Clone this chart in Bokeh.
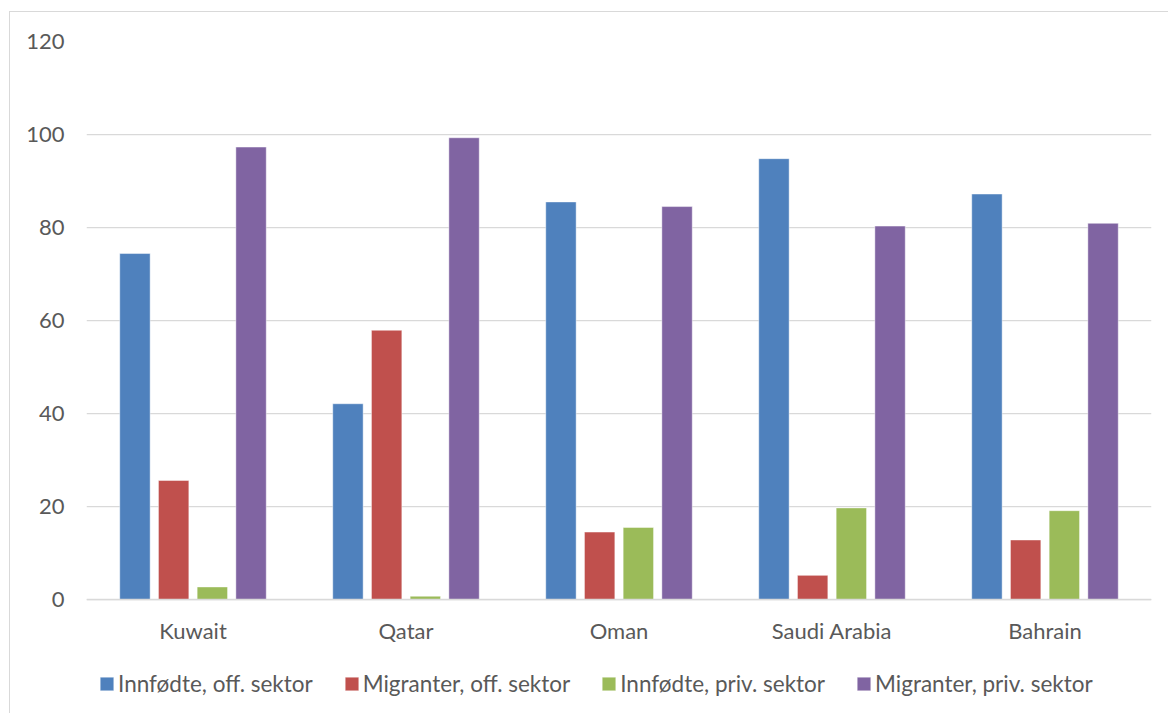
from bokeh.plotting import figure
from bokeh.models import (FactorRange, Range1d, FixedTicker, Legend, LegendItem,
                          ColumnDataSource)
from bokeh.transform import dodge
from bokeh.embed import file_html
from bokeh.resources import INLINE

# Share of employees (%) by sector and origin, Gulf states
countries = ["Kuwait", "Qatar", "Oman", "Saudi Arabia", "Bahrain"]
series_names = ["Innfødte, off. sektor", "Migranter, off. sektor",
                "Innfødte, priv. sektor", "Migranter, priv. sektor"]
innfodte_off = [74.4, 42.1, 85.5, 94.8, 87.2]
migranter_off = [25.6, 57.9, 14.5, 5.2, 12.8]
innfodte_priv = [2.7, 0.7, 15.5, 19.7, 19.1]
migranter_priv = [97.3, 99.3, 84.5, 80.3, 80.9]
y_ticks = [0, 20, 40, 60, 80, 100, 120]

colors = ["#4F81BD", "#C0504D", "#9BBB59", "#8064A2"]
FONT = "Lato"
TEXT_COLOR = "#595959"
GRID_COLOR = "#D9D9D9"

source = ColumnDataSource(data=dict(
    country=countries,
    s0=innfodte_off,
    s1=migranter_off,
    s2=innfodte_priv,
    s3=migranter_priv,
))

# The plot area runs to the bottom edge so that the category axis (pinned at
# y = 0) and the legend both sit inside it, below the bars.
p = figure(
    frame_width=1065, frame_height=672,
    x_range=FactorRange(factors=countries, range_padding=0),
    y_range=Range1d(-24.516, 120),
    output_backend="svg", toolbar_location=None,
    min_border_left=76, min_border_right=17,
    min_border_top=29, min_border_bottom=0,
    background_fill_color="white", border_fill_color="white",
    margin=(11, 0, 0, 9),
    styles={"border-left": "1px solid #D9D9D9", "border-top": "1px solid #D9D9D9"},
)
p.outline_line_color = None

step = 0.1817
bar_w = 0.1427
offsets = [-1.5 * step, -0.5 * step, 0.5 * step, 1.5 * step]

renderers = []
for i, (off, col) in enumerate(zip(offsets, colors)):
    r = p.vbar(x=dodge("country", off, range=p.x_range), top=f"s{i}", bottom=0,
               width=bar_w, source=source, fill_color=col,
               line_color="white", line_alpha=0.45, line_width=1)
    renderers.append(r)

# value axis
p.yaxis.ticker = FixedTicker(ticks=y_ticks)
p.yaxis.axis_line_color = None
p.yaxis.major_tick_line_color = None
p.yaxis.major_tick_out = 0
p.yaxis.minor_tick_line_color = None
p.yaxis.minor_tick_out = 0
p.yaxis.major_label_standoff = 22
p.yaxis.major_label_text_font = FONT
p.yaxis.major_label_text_font_size = "22px"
p.yaxis.major_label_text_color = TEXT_COLOR

# category axis pinned to the zero line
p.xaxis.fixed_location = 0
p.xaxis.axis_line_color = GRID_COLOR
p.xaxis.axis_line_width = 1.3
p.xaxis.major_tick_line_color = None
p.xaxis.major_tick_out = 0
p.xaxis.minor_tick_line_color = None
p.xaxis.minor_tick_out = 0
p.xaxis.major_label_standoff = 17
p.xaxis.major_label_text_font = FONT
p.xaxis.major_label_text_font_size = "22px"
p.xaxis.major_label_text_color = TEXT_COLOR

p.xgrid.grid_line_color = None
p.ygrid.grid_line_color = GRID_COLOR
p.ygrid.grid_line_width = 1.25

# legend row under the category labels
legend = Legend(
    items=[LegendItem(label=n, renderers=[r]) for n, r in zip(series_names, renderers)],
    orientation="horizontal",
    location=(12, 16),
    glyph_width=17, glyph_height=17,
    label_standoff=3, spacing=30,
    padding=0, margin=0,
    border_line_color=None, background_fill_alpha=0,
    label_text_font=FONT, label_text_font_size="22.5px",
    label_text_color=TEXT_COLOR,
)
p.add_layout(legend, "center")

open("out.html", "w").write(file_html(p, INLINE))
